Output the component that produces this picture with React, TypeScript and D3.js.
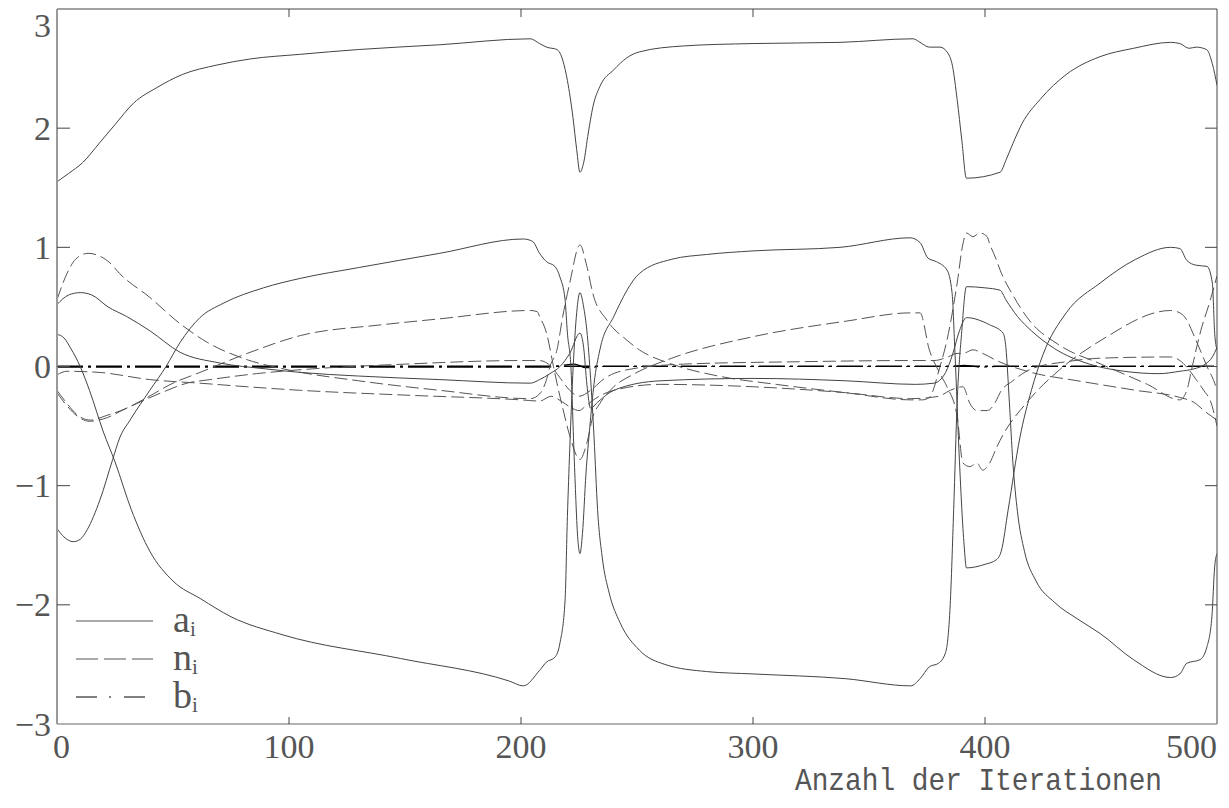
import React from "react";
import * as d3 from "d3";

type P = [number, number];

const xTicks = [0, 100, 200, 300, 400, 500];
const yTicks = [-3, -2, -1, 0, 1, 2, 3];
const xTitle = "Anzahl der Iterationen";
const legendNames = ["a", "n", "b"];

// a_i (solid)
const a1: P[] = [[0,1.55],[5,1.62],[11,1.71],[18.5,1.88],[25,2.03],[33,2.21],[43,2.34],[54,2.45],[69,2.53],[83,2.58],[105,2.62],[130,2.66],[165,2.70],[204,2.75],[208,2.71],[211,2.68],[215.5,2.66],[218,2.57],[220,2.40],[222.4,2.09],[224,1.82],[225.4,1.63],[227,1.71],[229,1.96],[231,2.18],[234,2.35],[240,2.49],[245.6,2.59],[251,2.64],[270,2.69],[300,2.71],[337.5,2.72],[369,2.75],[372,2.72],[376,2.68],[380.6,2.68],[384,2.63],[386,2.52],[388,2.24],[390,1.90],[392,1.58],[406.5,1.63],[409,1.73],[412,1.87],[416,2.04],[423.7,2.24],[435,2.45],[449.6,2.6],[464,2.67],[480,2.72],[484,2.71],[488,2.67],[491,2.68],[495.5,2.66],[498,2.54],[500,2.36]];
const a2: P[] = [[0,-1.36],[3,-1.43],[7,-1.47],[10,-1.45],[13,-1.37],[18.5,-1.12],[24,-0.78],[27,-0.6],[31.5,-0.45],[40,-0.2],[47,0],[53,0.2],[61.6,0.41],[71.6,0.53],[89,0.66],[105,0.74],[130,0.83],[165,0.95],[201,1.07],[205,1.05],[208,0.95],[211,0.88],[214.6,0.84],[216.8,0.75],[219,0.56],[220,0.28],[221.5,0],[223,-0.8],[224.5,-1.45],[225.4,-1.57],[226.5,-1.4],[228,-0.9],[229.7,-0.5],[231.5,-0.14],[234,0.14],[240,0.42],[251,0.78],[265,0.9],[280,0.94],[300,0.97],[337.5,1.0],[367.7,1.08],[372,1.04],[375.4,0.91],[379,0.88],[383.6,0.81],[385.8,0.62],[387,0.14],[389,-0.8],[391,-1.5],[392,-1.69],[400,-1.66],[405,-1.62],[407,-1.55],[410,-1.2],[415,-0.6],[420,-0.2],[425,0.1],[435,0.45],[449.6,0.70],[465,0.9],[480,1.0],[484,0.99],[487,0.89],[491,0.85],[495.7,0.84],[498,0.70],[499,0.28],[500,0.14]];
const a3: P[] = [[0,0.52],[5,0.6],[10,0.62],[15,0.6],[22,0.5],[30,0.42],[40,0.3],[53,0.12],[70,0.03],[90,-0.02],[105,-0.05],[130,-0.08],[165,-0.11],[204,-0.14],[208,-0.11],[212.5,-0.06],[216.8,0],[221,0.11],[225.4,0.28],[227,0.16],[228.4,-0.15],[230,-0.35],[233,-0.3],[240,-0.2],[260,-0.12],[300,-0.1],[340,-0.12],[370,-0.15],[378,-0.14],[383,-0.05],[386,0.1],[389,0.3],[392,0.41],[402,0.35],[407.8,0.28],[409,0.16],[410.5,-0.3],[412,-0.8],[414,-1.22],[417,-1.55],[422,-1.8],[430,-1.98],[440,-2.12],[449.6,-2.24],[464,-2.46],[480,-2.61],[484,-2.58],[487,-2.49],[492.7,-2.46],[495.7,-2.35],[497.8,-2.1],[499,-1.68],[500,-1.57]];
const a4: P[] = [[0,0.27],[3,0.24],[6,0.15],[10,0.0],[14,-0.2],[20,-0.55],[25,-0.8],[32,-1.2],[40,-1.55],[50,-1.8],[62,-1.95],[75,-2.1],[97,-2.25],[148,-2.45],[195,-2.64],[201,-2.68],[208,-2.55],[211,-2.48],[214.6,-2.44],[216.8,-2.32],[219,-1.96],[220,-1.26],[221,-0.70],[222.5,0],[224,0.45],[225.4,0.62],[227,0.5],[228.4,0.3],[230,-0.1],[231.5,-0.6],[233,-1.2],[235,-1.6],[238,-1.9],[242.7,-2.15],[251,-2.38],[262,-2.5],[280,-2.56],[300,-2.58],[340,-2.62],[368,-2.68],[372,-2.62],[376,-2.52],[380,-2.49],[383,-2.4],[385,-2.0],[386.5,-1.2],[388,-0.3],[390,0.3],[392,0.67],[400,0.66],[406.5,0.64],[409,0.56],[414,0.42],[420,0.3],[430,0.15],[445,0.02],[460,-0.04],[475,-0.06],[484,-0.04],[490,-0.02],[495,0.02],[498,0.08],[500,0.16]];

// n_i (dashed)
const n1: P[] = [[0,0.56],[4.3,0.78],[8,0.9],[13.4,0.95],[18,0.93],[22.8,0.87],[27,0.78],[40,0.58],[53,0.36],[65,0.2],[80,0.07],[100,-0.03],[130,-0.12],[165,-0.2],[204,-0.27],[208,-0.23],[211,-0.11],[212.5,0],[215.5,0.14],[218,0.42],[221,0.7],[225.4,1.02],[228.4,0.84],[231,0.61],[237,0.39],[245.7,0.22],[251,0.14],[265,0.02],[285,-0.08],[310,-0.15],[340,-0.22],[368,-0.28],[373,-0.28],[376,-0.26],[380.6,0],[383.6,0.22],[388,0.7],[390.5,1.03],[392,1.12],[394.8,1.09],[397.8,1.12],[400.9,1.09],[402,1.03],[405,0.89],[406.5,0.81],[412,0.6],[419,0.39],[432,0.18],[450,0.02],[470,-0.15],[484,-0.28],[487,-0.2],[489,-0.03],[493,0.3],[497,0.55],[500,0.76]];
const n2: P[] = [[0,-0.07],[4.3,-0.04],[18.5,-0.05],[40,-0.11],[61.6,-0.14],[82,-0.17],[105,-0.2],[150,-0.24],[200,-0.28],[208,-0.29],[213,-0.25],[218,-0.3],[222,-0.35],[225,-0.37],[228,-0.33],[232,-0.27],[240,-0.2],[260,-0.15],[300,-0.17],[340,-0.22],[368,-0.27],[380,-0.25],[385,-0.2],[390.5,-0.17],[393.5,-0.31],[396.5,-0.37],[401,-0.37],[405,-0.28],[406.5,-0.22],[412,-0.12],[420,-0.02],[435,0.04],[450,0.07],[480,0.08],[484,0.05],[488,-0.03],[491,-0.11],[495,-0.22],[497,-0.28],[500,-0.5]];
const n3: P[] = [[0,-0.2],[4.3,-0.31],[9,-0.41],[14.4,-0.45],[21.5,-0.41],[30,-0.35],[37,-0.28],[50,-0.14],[61.6,-0.05],[82,0.11],[105,0.26],[140,0.35],[165,0.4],[204,0.47],[207,0.46],[208,0.42],[211,0.28],[214,0],[215.5,-0.14],[218,-0.35],[221,-0.58],[225.4,-0.78],[228.4,-0.64],[231,-0.42],[234,-0.31],[240,-0.17],[248,-0.07],[265,0.07],[300,0.25],[340,0.38],[368,0.45],[372,0.45],[376,0.14],[380.6,-0.06],[383.6,-0.17],[388,-0.42],[390.5,-0.81],[393.5,-0.84],[396.5,-0.81],[399,-0.87],[402,-0.81],[405,-0.68],[406.5,-0.62],[419,-0.28],[432,-0.03],[450,0.22],[480,0.47],[484,0.45],[487,0.39],[489.6,0.28],[492.7,0.14],[495.7,0],[499,-0.14],[500,-0.2]];
const n4: P[] = [[0,-0.22],[4.3,-0.33],[9,-0.42],[14,-0.46],[20,-0.44],[30,-0.35],[45,-0.22],[56,-0.14],[66,-0.11],[86,-0.06],[110,-0.02],[150,0.02],[200,0.05],[208,0.05],[213,0.0],[217,-0.1],[221,-0.2],[225,-0.25],[230,-0.2],[236,-0.1],[245,-0.03],[270,0.02],[320,0.04],[368,0.05],[378,0.05],[384,0.08],[388,0.11],[390.5,0.11],[394.8,0.14],[399,0.11],[405,0.05],[420,-0.05],[440,-0.12],[465,-0.2],[484,-0.26],[490,-0.3],[495,-0.38],[500,-0.45]];

// b_i (dash-dot)
const b1: P[] = [[0,0],[500,0]];
const b2: P[] = [[0,-0.005],[212,-0.005],[218,0.01],[223,0.02],[228,-0.01],[235,0],[385,0],[391,0.01],[398,-0.005],[405,0],[500,0]];
const b3: P[] = [[0,0.004],[500,0.004]];

const solid = [a1, a2, a3, a4];
const dashed = [n1, n2, n3, n4];
const dashdot = [b1, b2, b3];

export default function App() {
  const W = 1229, H = 808;
  const L = 57, R = 1217, T = 9, B = 724;
  const x = d3.scaleLinear().domain([0, 500]).range([L, R]);
  const y = d3.scaleLinear().domain([-3, 3]).range([B, T]);
  const line = d3.line<P>().x(d => x(d[0])).y(d => y(d[1])).curve(d3.curveMonotoneX);
  const font = "'Liberation Serif', 'DejaVu Serif', serif";
  const txt = "#555";
  const fmt = (v: number) => (v < 0 ? "\u2212" + Math.abs(v) : String(v));

  return (
    <svg width={W} height={H} style={{ position: "absolute", left: 0, top: 0, background: "#fff" }}>
      <defs>
        <clipPath id="plot">
          <rect x={L} y={T} width={R - L} height={B - T} />
        </clipPath>
      </defs>
      <g clipPath="url(#plot)" fill="none">
        {dashdot.map((s, i) => (
          <path key={"b" + i} d={line(s) || ""} stroke="#000" strokeWidth={1.2} strokeDasharray="26,5,3,5" />
        ))}
        {dashed.map((s, i) => (
          <path key={"n" + i} d={line(s) || ""} stroke="#555" strokeWidth={1} strokeDasharray="13,5" />
        ))}
        {solid.map((s, i) => (
          <path key={"a" + i} d={line(s) || ""} stroke="#444" strokeWidth={1} />
        ))}
      </g>
      {/* frame */}
      <line x1={L} x2={R} y1={T} y2={T} stroke="#444" strokeWidth={1} />
      <line x1={R} x2={R} y1={T} y2={B} stroke="#444" strokeWidth={1} />
      <line x1={L} x2={L} y1={T} y2={B} stroke="#999" strokeWidth={2} />
      <line x1={L} x2={R} y1={B} y2={B} stroke="#999" strokeWidth={1.5} />
      {/* ticks */}
      {yTicks.filter(v => v > -3 && v < 3).map(v => (
        <g key={"yt" + v} stroke="#444" strokeWidth={1}>
          <line x1={L} x2={L + 13} y1={y(v)} y2={y(v)} />
          <line x1={R - 12} x2={R} y1={y(v)} y2={y(v)} />
        </g>
      ))}
      {xTicks.filter(v => v > 0 && v < 500).map(v => (
        <g key={"xt" + v} stroke="#444" strokeWidth={1}>
          <line x1={x(v)} x2={x(v)} y1={T} y2={T + 8} />
          <line x1={x(v)} x2={x(v)} y1={B} y2={B - 7} />
        </g>
      ))}
      {/* y labels */}
      {yTicks.map(v => (
        <text key={"yl" + v} x={L - 6} y={Math.max(y(v), 25)} textAnchor="end" dominantBaseline="central"
          fontFamily={font} fontSize={34} fill={txt}>{fmt(v)}</text>
      ))}
      {/* x labels */}
      {xTicks.map(v => (
        <text key={"xl" + v} x={v === 0 ? L - 4 : v === 500 ? R : x(v)} y={758}
          textAnchor={v === 0 ? "start" : v === 500 ? "end" : "middle"}
          fontFamily={font} fontSize={34} fill={txt}>{v}</text>
      ))}
      <text x={795} y={790} fontFamily="'Liberation Mono', 'DejaVu Sans Mono', monospace" fontSize={32}
        textLength={367} lengthAdjust="spacingAndGlyphs" fill={txt}>{xTitle}</text>
      {/* legend */}
      {legendNames.map((nm, i) => {
        const ly = 621 + i * 38;
        const dash = i === 0 ? undefined : i === 1 ? "22,6" : "21,12,2,13";
        return (
          <g key={"lg" + nm}>
            <line x1={76} x2={153} y1={ly} y2={ly} stroke={i === 2 ? "#000" : "#555"} strokeWidth={1} strokeDasharray={dash} />
            <text x={173} y={ly + 11} fontFamily={font} fontSize={38} fill={txt}>
              {nm}
              <tspan fontSize={21} dy={4}>i</tspan>
            </text>
          </g>
        );
      })}
    </svg>
  );
}
